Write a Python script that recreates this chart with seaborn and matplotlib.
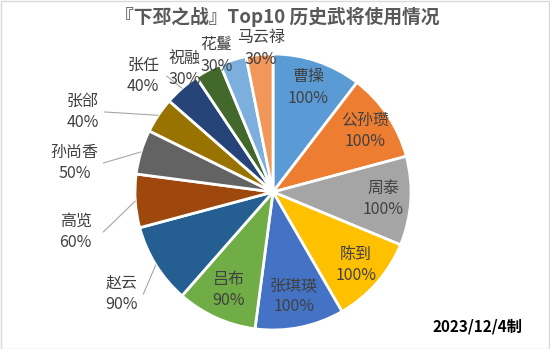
import numpy as np
import matplotlib
matplotlib.use("Agg")
import matplotlib.pyplot as plt
import seaborn as sns
from matplotlib.patches import Rectangle

# ---- data ----
names = ["曹操", "公孙瓒", "周泰", "陈到", "张琪瑛", "吕布", "赵云", "高览",
         "孙尚香", "张郃", "张任", "祝融", "花鬘", "马云禄"]
usage = [100, 100, 100, 100, 100, 90, 90, 60, 50, 40, 40, 30, 30, 30]
colors = ["#5B9BD5", "#ED7D31", "#A5A5A5", "#FFC000", "#4472C4", "#70AD47",
          "#255E91", "#9E480E", "#636363", "#997300", "#264478", "#43682B",
          "#7CAFDD", "#F1975A"]
title = "『下邳之战』Top10 历史武将使用情况"
note = "2023/12/4制"

# label placement (unit = pie radius): inside radius, or outside (x, y, leader start dx)
label_pos = [
    (None, 0.80), (None, 0.80), (None, 0.80), (None, 0.80), (None, 0.77), (None, 0.78),
    ((-1.10, -0.74), 0.16), ((-1.43, -0.29), 0.20), ((-1.44, 0.21), 0.21),
    ((-1.38, 0.58), 0.16), ((-0.94, 0.84), 0.17), ((-0.64, 0.89), None),
    ((-0.41, 0.99), None), ((-0.09, 1.04), None),
]

sns.set_theme(style="white")
plt.rcParams['font.family'] = ['Noto Sans CJK SC', 'DejaVu Sans']

W, H = 550, 349
fig = plt.figure(figsize=(5.5, 3.49), dpi=100)
fig.patch.set_facecolor("white")
ax = fig.add_axes([0, 0, 1, 1])

R = 138.0
cx, cy = 273.0, 349 - 192.0

pal = sns.color_palette(colors)
wedges, _ = ax.pie(usage, colors=pal, startangle=90, counterclock=False,
                   radius=1.0, wedgeprops=dict(edgecolor="white", linewidth=2))
ax.set_xlim(-cx / R, (W - cx) / R)
ax.set_ylim(-cy / R, (H - cy) / R)
ax.set_aspect('auto')
ax.axis('off')

total = sum(usage)
cum = 0
txtc = "#404040"
fs = 11.5
ls = 1.35
for i, (n, v) in enumerate(zip(names, usage)):
    mid = cum + v / 2
    cum += v
    ang = np.deg2rad(90 - mid / total * 360)
    lab = f"{n}\n{v}%"
    pos = label_pos[i]
    if pos[0] is None:
        r = pos[1]
        ax.text(r * np.cos(ang), r * np.sin(ang), lab, ha="center", va="center",
                fontsize=fs, color=txtc, linespacing=ls)
    else:
        (lx, ly), lead = pos
        ax.text(lx, ly, lab, ha="center", va="center", fontsize=fs,
                color=txtc, linespacing=ls, clip_on=False)
        if lead is not None:
            ex, ey = 1.0 * np.cos(ang), 1.0 * np.sin(ang)
            sx = lx + lead
            ax.plot([sx, ex], [ly, ey], color="#A6A6A6", lw=0.8, clip_on=False)

fig.text(277 / W, 1 - 17 / H, title, ha="center", va="center", fontsize=13.5,
         color="#595959", fontweight="bold")
fig.text(477 / W, 1 - 327 / H, note, ha="center", va="center", fontsize=11,
         color="black", fontweight="bold")

fig.patches.append(Rectangle((0.5 / W, 0.5 / H), 1 - 1.5 / W, 1 - 1.5 / H,
                             transform=fig.transFigure, fill=False,
                             edgecolor="#D9D9D9", lw=1))
fig.savefig("out.png", dpi=100)
